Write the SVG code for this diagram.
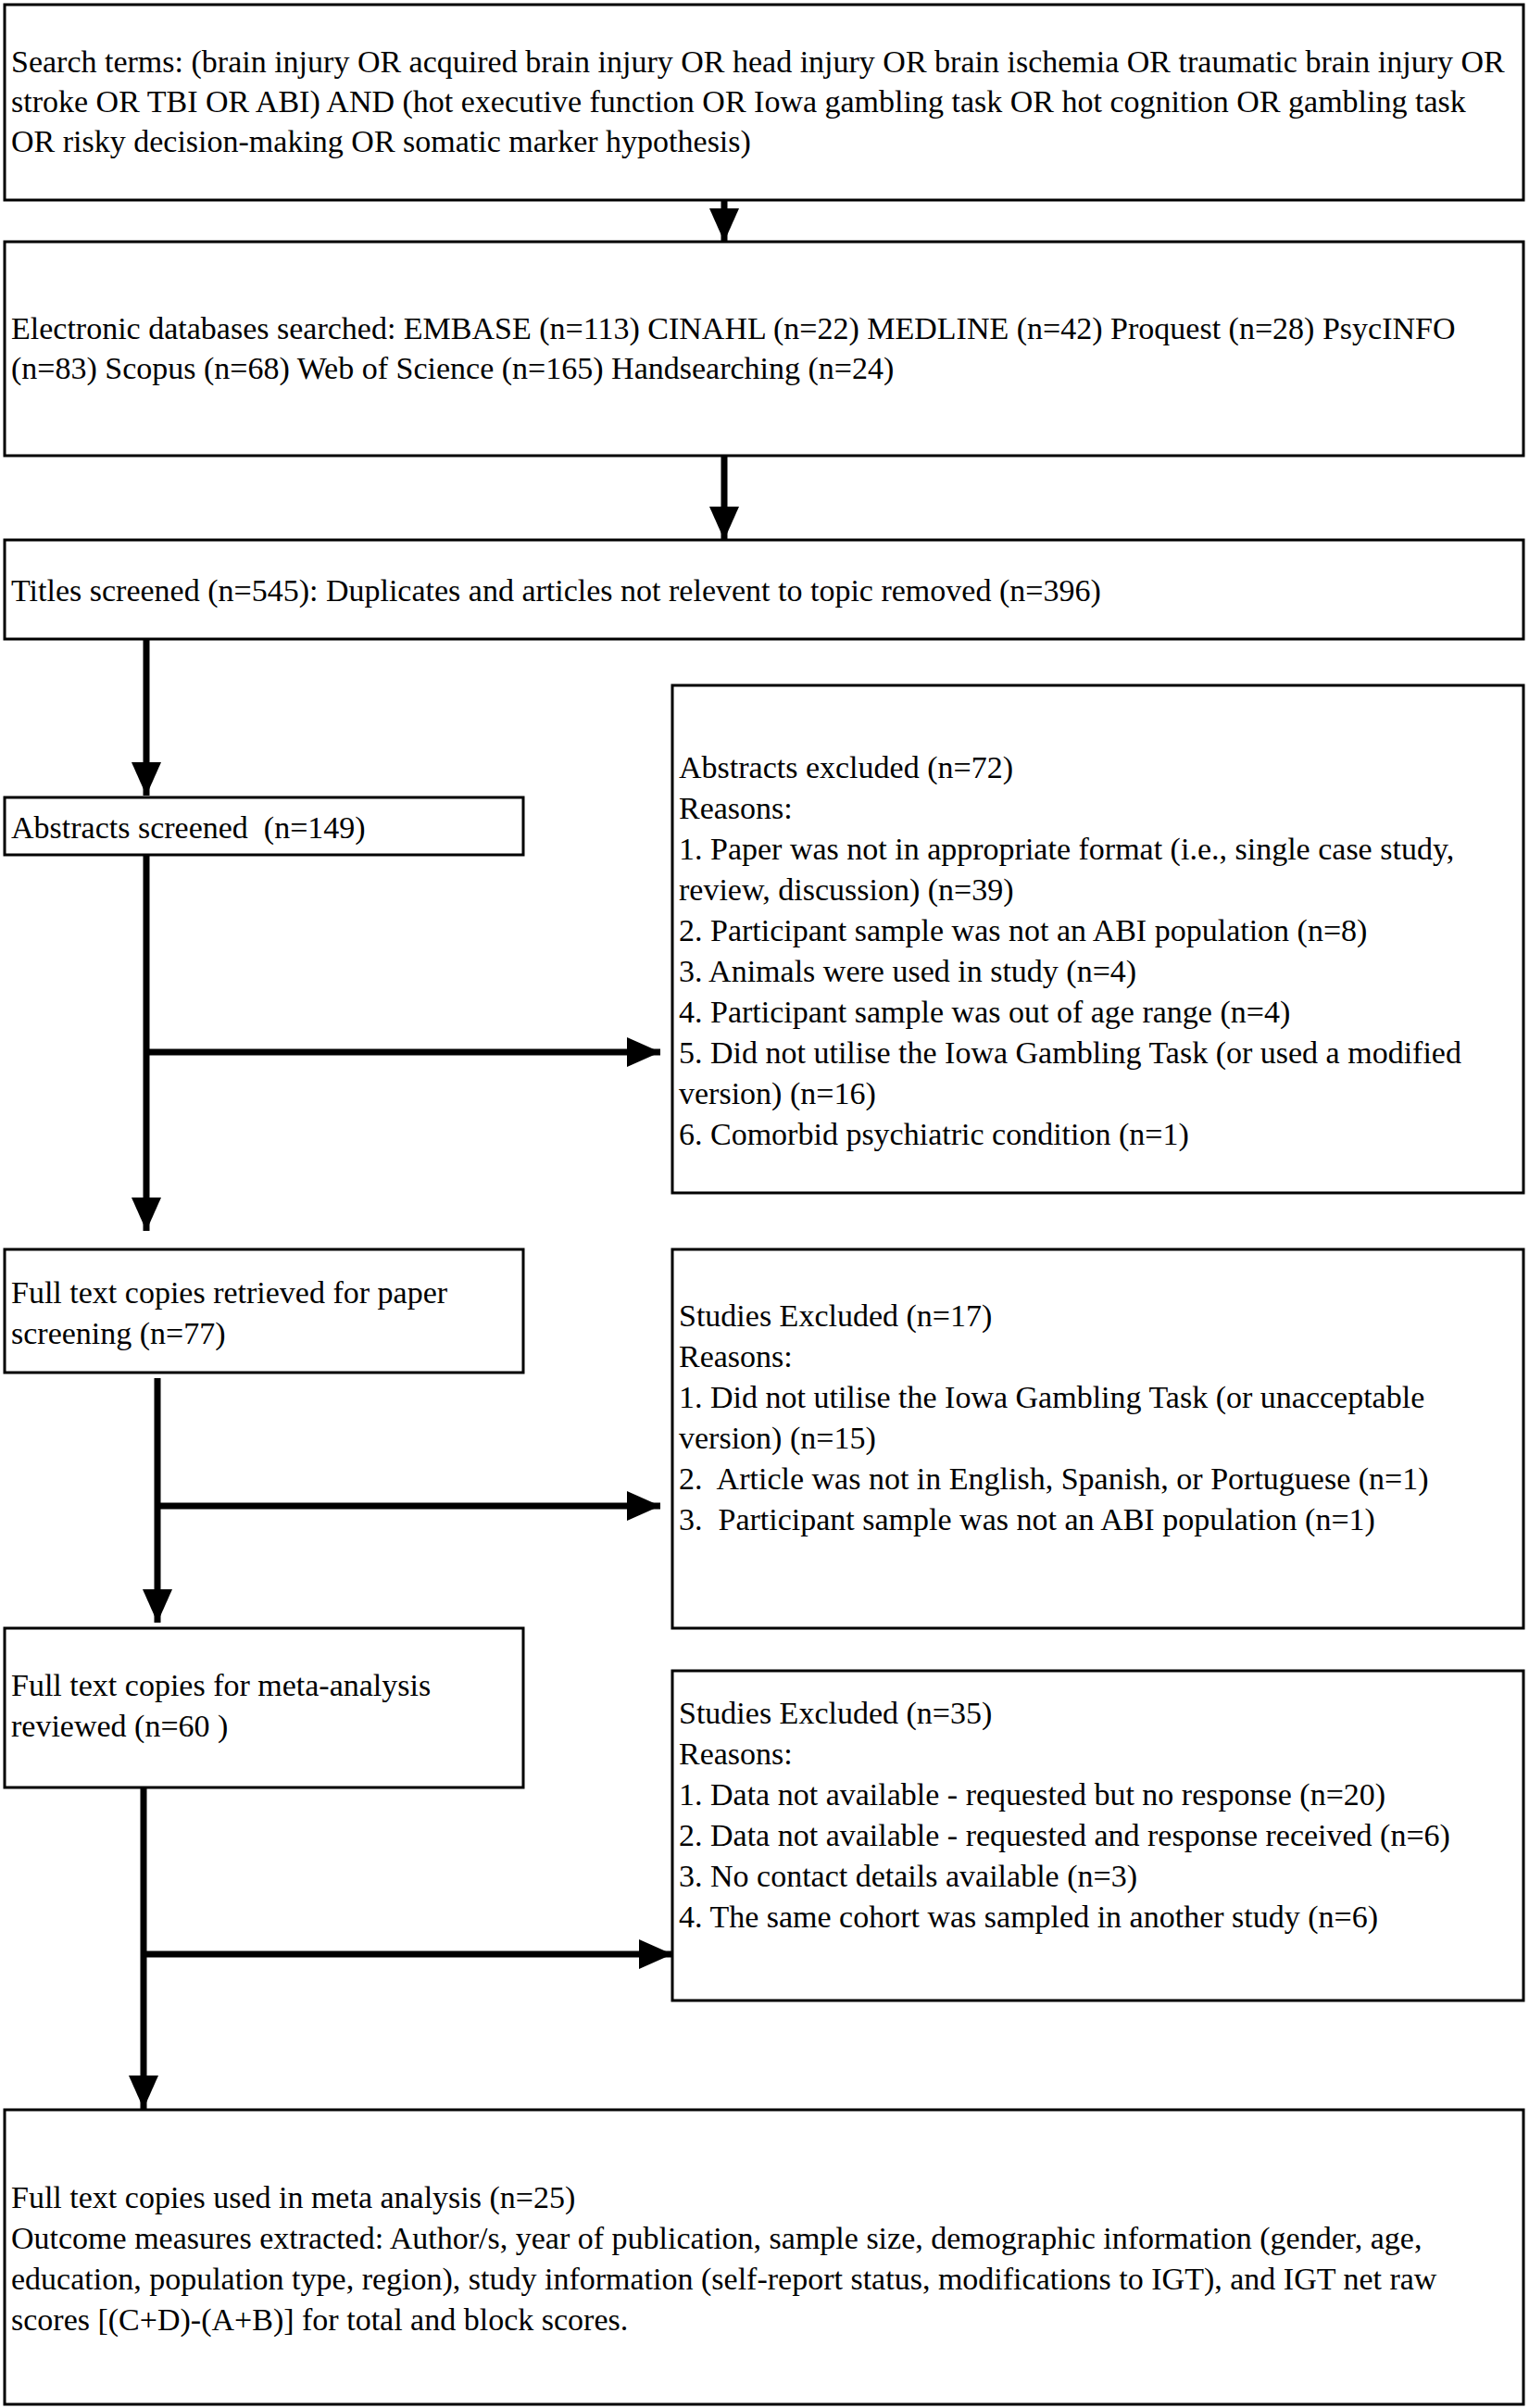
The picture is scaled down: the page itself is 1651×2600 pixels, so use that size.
<svg xmlns="http://www.w3.org/2000/svg" width="1651" height="2600" viewBox="0 0 1651 2600">
<style>
.b{fill:#fff;stroke:#000;stroke-width:3}
text{font-family:"Liberation Serif","Times New Roman",serif;font-size:34px;fill:#000}
.c{stroke:#000;stroke-width:7;fill:none}
</style>
<defs>
<marker id="ah" markerUnits="userSpaceOnUse" markerWidth="36" markerHeight="32" refX="36" refY="16" orient="auto">
<polygon points="0,0 36,16 0,32" fill="#000"/>
</marker>
</defs>
<rect width="1651" height="2600" fill="#fff"/>
<g id="connectors">
<line class="c" x1="782" y1="216" x2="782" y2="261" marker-end="url(#ah)"/>
<line class="c" x1="782" y1="492" x2="782" y2="583" marker-end="url(#ah)"/>
<line class="c" x1="158" y1="690" x2="158" y2="859" marker-end="url(#ah)"/>
<line class="c" x1="158" y1="923" x2="158" y2="1329" marker-end="url(#ah)"/>
<line class="c" x1="158" y1="1136" x2="713" y2="1136" marker-end="url(#ah)"/>
<line class="c" x1="170" y1="1488" x2="170" y2="1752" marker-end="url(#ah)"/>
<line class="c" x1="170" y1="1626" x2="713" y2="1626" marker-end="url(#ah)"/>
<line class="c" x1="155" y1="1930" x2="155" y2="2277" marker-end="url(#ah)"/>
<line class="c" x1="155" y1="2110" x2="726" y2="2110" marker-end="url(#ah)"/>
</g>
<g id="search">
<rect class="b" x="5" y="5" width="1640" height="211"/>
<text x="12" y="78">Search terms: (brain injury OR acquired brain injury OR head injury OR brain ischemia OR traumatic brain injury OR</text>
<text x="12" y="121">stroke OR TBI OR ABI) AND (hot executive function OR Iowa gambling task OR hot cognition OR gambling task</text>
<text x="12" y="164">OR risky decision-making OR somatic marker hypothesis)</text>
</g>
<g id="databases">
<rect class="b" x="5" y="261" width="1640" height="231"/>
<text x="12" y="366">Electronic databases searched: EMBASE (n=113) CINAHL (n=22) MEDLINE (n=42) Proquest (n=28) PsycINFO</text>
<text x="12" y="409">(n=83) Scopus (n=68) Web of Science (n=165) Handsearching (n=24)</text>
</g>
<g id="titles">
<rect class="b" x="5" y="583" width="1640" height="107"/>
<text x="12" y="649">Titles screened (n=545): Duplicates and articles not relevent to topic removed (n=396)</text>
</g>
<g id="abstracts">
<rect class="b" x="5" y="861" width="560" height="62"/>
<text x="12" y="905" xml:space="preserve">Abstracts screened  (n=149)</text>
</g>
<g id="abstracts-excluded">
<rect class="b" x="726" y="740" width="919" height="548"/>
<text x="733" y="840">Abstracts excluded (n=72)</text>
<text x="733" y="884">Reasons:</text>
<text x="733" y="928">1. Paper was not in appropriate format (i.e., single case study,</text>
<text x="733" y="972">review, discussion) (n=39)</text>
<text x="733" y="1016">2. Participant sample was not an ABI population (n=8)</text>
<text x="733" y="1060">3. Animals were used in study (n=4)</text>
<text x="733" y="1104">4. Participant sample was out of age range (n=4)</text>
<text x="733" y="1148">5. Did not utilise the Iowa Gambling Task (or used a modified</text>
<text x="733" y="1192">version) (n=16)</text>
<text x="733" y="1236">6. Comorbid psychiatric condition (n=1)</text>
</g>
<g id="fulltext-retrieved">
<rect class="b" x="5" y="1349" width="560" height="133"/>
<text x="12" y="1407">Full text copies retrieved for paper</text>
<text x="12" y="1451">screening (n=77)</text>
</g>
<g id="studies-excluded-17">
<rect class="b" x="726" y="1349" width="919" height="409"/>
<text x="733" y="1432">Studies Excluded (n=17)</text>
<text x="733" y="1476">Reasons:</text>
<text x="733" y="1520">1. Did not utilise the Iowa Gambling Task (or unacceptable</text>
<text x="733" y="1564">version) (n=15)</text>
<text x="733" y="1608" xml:space="preserve">2.  Article was not in English, Spanish, or Portuguese (n=1)</text>
<text x="733" y="1652" xml:space="preserve">3.  Participant sample was not an ABI population (n=1)</text>
</g>
<g id="meta-reviewed">
<rect class="b" x="5" y="1758" width="560" height="172"/>
<text x="12" y="1831">Full text copies for meta-analysis</text>
<text x="12" y="1875">reviewed (n=60 )</text>
</g>
<g id="studies-excluded-35">
<rect class="b" x="726" y="1804" width="919" height="356"/>
<text x="733" y="1861">Studies Excluded (n=35)</text>
<text x="733" y="1905">Reasons:</text>
<text x="733" y="1949">1. Data not available - requested but no response (n=20)</text>
<text x="733" y="1993">2. Data not available - requested and response received (n=6)</text>
<text x="733" y="2037">3. No contact details available (n=3)</text>
<text x="733" y="2081">4. The same cohort was sampled in another study (n=6)</text>
</g>
<g id="final">
<rect class="b" x="5" y="2278" width="1640" height="318"/>
<text x="12" y="2384">Full text copies used in meta analysis (n=25)</text>
<text x="12" y="2428">Outcome measures extracted: Author/s, year of publication, sample size, demographic information (gender, age,</text>
<text x="12" y="2472">education, population type, region), study information (self-report status, modifications to IGT), and IGT net raw</text>
<text x="12" y="2516">scores [(C+D)-(A+B)] for total and block scores.</text>
</g>
</svg>
